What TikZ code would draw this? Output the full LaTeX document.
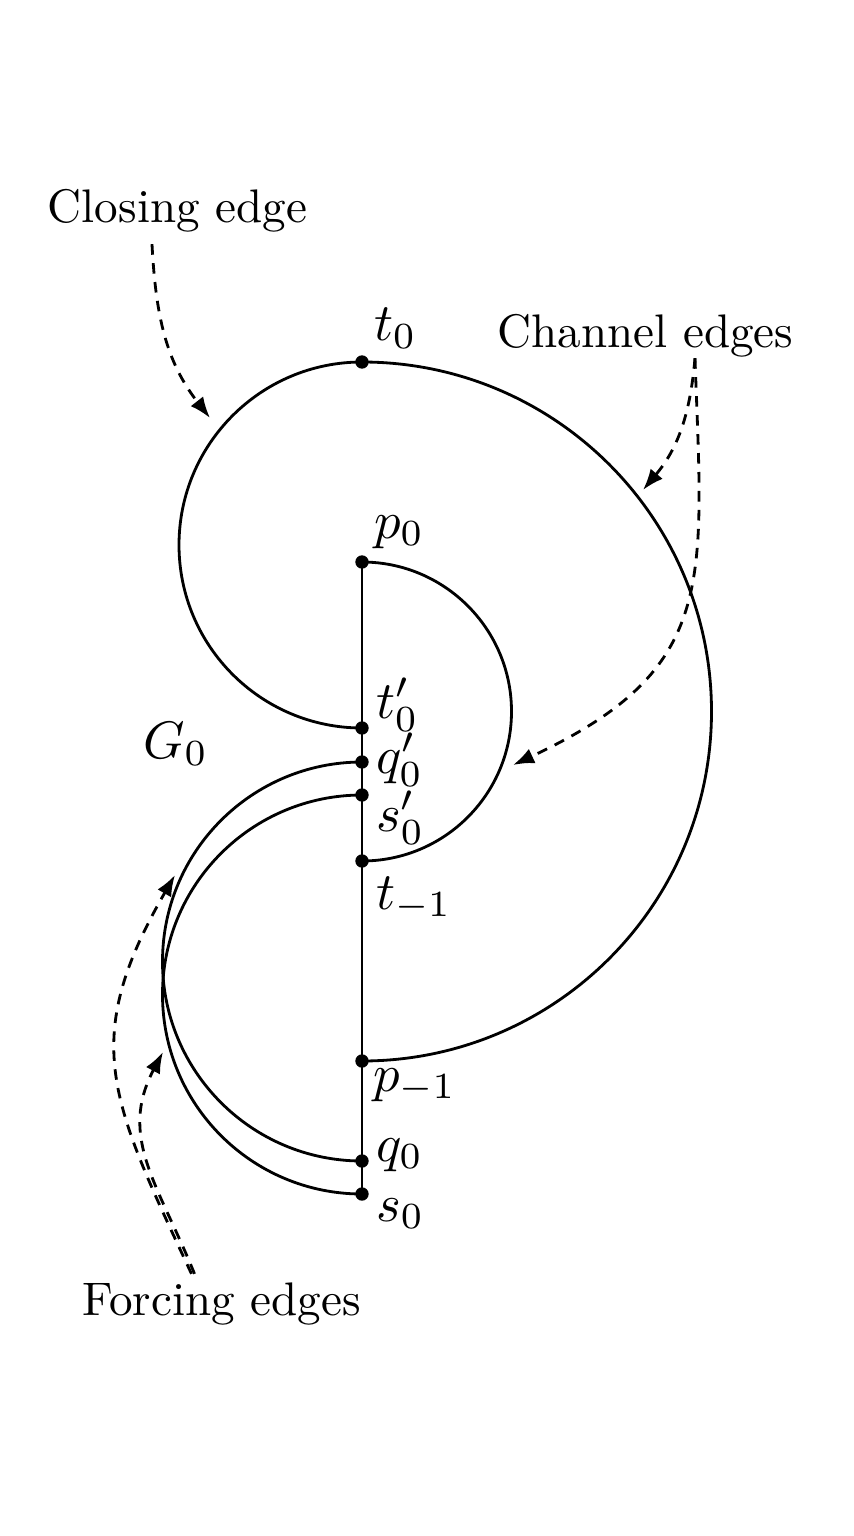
\documentclass[tikz,border=0pt]{standalone}
\usepackage{amsmath}
\usepackage{tikz}
\usetikzlibrary{arrows.meta}

\begin{document}
\begin{tikzpicture}[
    >={Latex[length=6pt,width=4.5pt]},
    edge/.style={line width=0.8pt},
    vtx/.style={draw, circle, fill=black, inner sep=0pt, minimum size=3.4pt},
    lbl/.style={anchor=base west, inner sep=0pt, scale=1.5},
    note/.style={anchor=base, inner sep=2.24pt, scale=1.34},
    pointer/.style={->, line width=0.8pt, dash pattern=on 3pt off 2.4pt}
]
    \useasboundingbox (0,0) rectangle (8.53,-15.36);

    % vertices on the spine
    \node[vtx] (t0) at (3.62,-3.62) {};
    \node[vtx] (p0) at (3.62,-5.62) {};
    \node[vtx] (t0p) at (3.62,-7.28) {};
    \node[vtx] (q0p) at (3.62,-7.62) {};
    \node[vtx] (s0p) at (3.62,-7.95) {};
    \node[vtx] (tm1) at (3.62,-8.61) {};
    \node[vtx] (pm1) at (3.62,-10.61) {};
    \node[vtx] (q0) at (3.62,-11.61) {};
    \node[vtx] (s0) at (3.62,-11.94) {};

    \draw[edge] (p0.center) -- (s0.center);
    \draw[edge] (t0.center) arc[start angle=90, end angle=270, radius=1.83];
    \draw[edge] (t0.center) arc[start angle=90, end angle=-90, radius=3.495];
    \draw[edge] (p0.center) arc[start angle=90, end angle=-90, radius=1.495];
    \draw[edge] (q0p.center) arc[start angle=90, end angle=270, radius=1.995];
    \draw[edge] (s0p.center) arc[start angle=90, end angle=270, radius=1.995];

    \node[lbl] (t0l) at ([shift={(0.11,0.21)}]t0.center) {$t_0$};
    \node[lbl] (p0l) at ([shift={(0.11,0.24)}]p0.center) {$p_0$};
    \node[lbl] (t0pl) at ([shift={(0.13,0.10)}]t0p.center) {$t_0'$};
    \node[lbl] (q0pl) at ([shift={(0.13,-0.11)}]q0p.center) {$q_0'$};
    \node[lbl] (s0pl) at ([shift={(0.13,-0.36)}]s0p.center) {$s_0'$};
    \node[lbl] (tm1l) at ([shift={(0.13,-0.48)}]tm1.center) {$t_{-1}$};
    \node[lbl] (pm1l) at ([shift={(0.10,-0.30)}]pm1.center) {$p_{-1}$};
    \node[lbl] (q0l) at ([shift={(0.13,0.00)}]q0.center) {$q_0$};
    \node[lbl] (s0l) at ([shift={(0.13,-0.27)}]s0.center) {$s_0$};
    \node[lbl] (g0) at (1.42,-7.58) {$G_0$};

    % annotations
    \node[note] (closing) at (1.775,-2.23) {Closing edge};
    \node[note] (channel) at (6.455,-3.47) {Channel edges};
    \node[note] (forcing) at (2.215,-13.15) {Forcing edges};

    \coordinate (closetip) at (2.10,-4.18);
    \coordinate (chantipa) at (6.43,-4.90);
    \coordinate (chantipb) at (5.13,-7.65);
    \coordinate (forcetipa) at (1.75,-8.75);
    \coordinate (forcetipb) at (1.63,-10.52);

    \draw[pointer] ([xshift=-0.255cm]closing.south) to[out=-87, in=128] (closetip);
    \draw[pointer] ([shift={(0.495,0.1)}]channel.south) to[out=-95, in=50] (chantipa);
    \draw[pointer] ([shift={(0.495,0.1)}]channel.south) to[out=-88, in=25, looseness=1.3] (chantipb);
    \draw[pointer] ([shift={(-0.30,-0.03)}]forcing.north) to[out=115, in=-120, looseness=1.23] (forcetipa);
    \draw[pointer] ([shift={(-0.27,-0.03)}]forcing.north) to[out=112, in=-118, looseness=1.1] (forcetipb);
\end{tikzpicture}
\end{document}
